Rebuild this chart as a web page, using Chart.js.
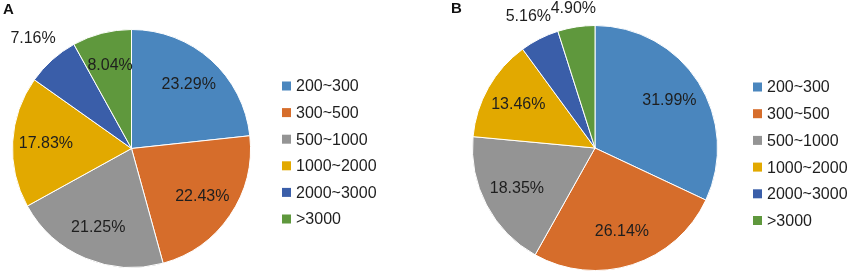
<!DOCTYPE html>
<html>
<head>
<meta charset="utf-8">
<script src="https://cdn.jsdelivr.net/npm/chart.js@4.4.1/dist/chart.umd.min.js"></script>
<style>
    body { margin: 0; background: #fff; }
    #wrap { position: relative; width: 851px; height: 276px; overflow: hidden; }
    .panel { position: absolute; top: 0; height: 276px; }
    .tag { position: absolute; font: bold 15px "Liberation Sans", Arial, sans-serif; color: #111; }
</style>
</head>
<body>
<div id="wrap">
    <div class="panel" style="left:0;width:425px"><canvas id="chartA" width="425" height="276"></canvas></div>
    <div class="panel" style="left:425px;width:426px"><canvas id="chartB" width="426" height="276"></canvas></div>
    <div class="tag" style="left:3px;top:0px">A</div>
    <div class="tag" style="left:451px;top:-1px">B</div>
</div>
<script>
const categories = ['200~300', '300~500', '500~1000', '1000~2000', '2000~3000', '>3000'];
const valuesA = [23.29, 22.43, 21.25, 17.83, 7.16, 8.04];
const valuesB = [31.99, 26.14, 18.35, 13.46, 5.16, 4.90];
const sliceColors = ['#4a86be', '#d66d2b', '#949494', '#e2a900', '#3a5ea9', '#5f983d'];

const FONT = '16px "Liberation Sans", Arial, sans-serif';

// percentage labels: inside for big slices, just outside the edge for small ones
const sliceLabels = {
    id: 'sliceLabels',
    afterDatasetsDraw(chart) {
        const ctx = chart.ctx;
        const values = chart.data.datasets[0].data;
        ctx.save();
        ctx.font = FONT;
        ctx.fillStyle = '#1e1e1e';
        ctx.textAlign = 'center';
        ctx.textBaseline = 'middle';
        chart.getDatasetMeta(0).data.forEach((arc, i) => {
            const p = arc.getProps(['x', 'y', 'startAngle', 'endAngle', 'outerRadius'], true);
            const mid = (p.startAngle + p.endAngle) / 2;
            const text = values[i].toFixed(2) + '%';
            const cx = Math.cos(mid), cy = Math.sin(mid);
            let r;
            if (values[i] < 7.5) {
                const w = ctx.measureText(text).width;
                r = p.outerRadius + 9 + Math.abs(cx) * w / 2 + Math.abs(cy) * 6;
            } else {
                r = p.outerRadius * 0.72;
            }
            ctx.fillText(text, p.x + cx * r, p.y + cy * r);
        });
        ctx.restore();
    }
};

// legend to the right of the pie
const sideLegend = {
    id: 'sideLegend',
    afterDraw(chart, args, opts) {
        const ctx = chart.ctx;
        const colors = chart.data.datasets[0].backgroundColor;
        ctx.save();
        ctx.font = FONT;
        ctx.textBaseline = 'middle';
        ctx.textAlign = 'left';
        chart.data.labels.forEach((label, i) => {
            const y = opts.y + i * opts.gap;
            ctx.fillStyle = colors[i];
            ctx.fillRect(opts.x, y - 4.5, 9, 9);
            ctx.fillStyle = '#1e1e1e';
            ctx.fillText(label, opts.x + 14, y + 1);
        });
        ctx.restore();
    }
};

function makePie(id, values, padding, legend) {
    return new Chart(document.getElementById(id), {
        type: 'pie',
        data: {
            labels: categories,
            datasets: [{
                data: values,
                backgroundColor: sliceColors,
                borderColor: '#ffffff',
                borderWidth: 1
            }]
        },
        options: {
            responsive: false,
            animation: false,
            layout: { padding: padding },
            plugins: {
                legend: { display: false },
                tooltip: { enabled: false },
                sideLegend: legend
            }
        },
        plugins: [sliceLabels, sideLegend]
    });
}

document.addEventListener('DOMContentLoaded', () => {
    makePie('chartA', valuesA, { left: 12, top: 29, bottom: 8, right: 174 }, { x: 282, y: 86, gap: 26.6 });
    makePie('chartB', valuesB, { left: 47, top: 25, bottom: 5, right: 133 }, { x: 328, y: 87, gap: 26.7 });
});
</script>
</body>
</html>
